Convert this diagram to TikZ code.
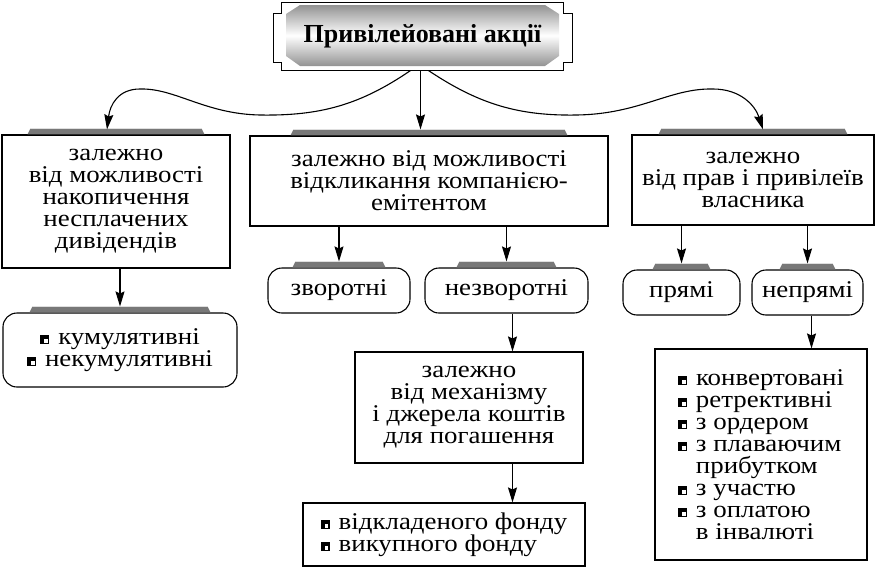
\documentclass[tikz,border=0pt]{standalone}
\usepackage{fontspec}
\setmainfont{Liberation Serif}
\newfontfamily\widefont{Liberation Serif}[FakeStretch=1.12]
\usetikzlibrary{arrows.meta,calc}
\definecolor{tabgray}{gray}{0.47}
\newcommand{\bul}{\makebox[18pt][l]{\rule[0.5pt]{9pt}{9pt}\hspace{-5pt}\textcolor{white}{\rule[1.6pt]{3.6pt}{3.8pt}}}}
\tikzset{
  crit/.style={draw, line width=1.1pt, fill=white, align=center,
    font=\widefont\fontsize{24}{22}\selectfont, inner sep=0pt},
  kind/.style={crit, rounded corners=14pt},
  listbox/.style={crit, align=left}
}
\begin{document}
\begin{tikzpicture}[x=1pt,y=-1pt,>={Stealth[length=15pt,width=9pt,inset=2pt]},line width=1.1pt]
        \useasboundingbox (0,0) rectangle (877,570);

        % title plate
        \draw[line width=1pt] (281,2) -- (563,2) -- (563,13) -- (572,13) -- (572,62)
          -- (563,62) -- (563,70) -- (281,70) -- (281,62) -- (273,62) -- (273,13)
          -- (281,13) -- cycle;
        \shade[top color=gray!85, bottom color=gray!85, middle color=white]
          (300,5) -- (545,5) -- (559,14) -- (559,56) -- (545,66) -- (300,66)
          -- (286,56) -- (286,14) -- cycle;
        \node[minimum width=299, minimum height=68,
          font=\fontsize{26}{28}\selectfont\bfseries] (title) at (422.5,36)
          {Привілейовані акції};

        % criteria
        \node[crit, minimum width=228, minimum height=133] (dep1) at (116,201.5)
          {залежно\\від можливості\\накопичення\\несплачених\\дивідендів};
        \node[crit, minimum width=358, minimum height=90] (dep2) at (429,181)
          {залежно від можливості\\відкликання компанією-\\емітентом};
        \node[crit, minimum width=242, minimum height=90] (dep3) at (753,180)
          {залежно\\від прав і привілеїв\\власника};

        \node[kind, minimum width=234, minimum height=74] (cum) at (120,350)
          {\bul кумулятивні\\\bul некумулятивні};
        \node[kind, minimum width=142, minimum height=45] (zv) at (339,290.5) {зворотні};
        \node[kind, minimum width=163, minimum height=45] (nzv) at (506.5,290.5) {незворотні};
        \node[kind, minimum width=117, minimum height=45] (pr) at (681.5,292.5) {прямі};
        \node[kind, minimum width=111, minimum height=45] (npr) at (807.5,292.5) {непрямі};

        \node[crit, minimum width=228, minimum height=111] (mech) at (469,407.5)
          {залежно\\від механізму\\і джерела коштів\\для погашення};
        \node[listbox, minimum width=282, minimum height=63] (fund) at (444,534.5)
          {\bul відкладеного фонду\\\bul викупного фонду};
        \node[listbox, minimum width=212, minimum height=211] (lst) at (761,454.5)
          {\bul конвертовані\\\bul ретрективні\\\bul з ордером\\\bul з плаваючим\\
           \hspace*{18pt}прибутком\\\bul з участю\\\bul з оплатою\\\hspace*{18pt}в інвалюті};

        % tabs
        \foreach \n/\d in {dep1/26, dep2/41, dep3/27, cum/27, zv/25, nzv/32, pr/30, npr/28}{
          \fill[tabgray] ($(\n.north west)+(\d,0)$) -- ($(\n.north west)+(\d+3,-6)$)
            -- ($(\n.north east)+(-\d-3,-6)$) -- ($(\n.north east)+(-\d,0)$) -- cycle;
          \draw[gray!25, line width=0.6pt] ($(\n.north west)+(\d+3,-6.5)$)
            -- ($(\n.north east)+(-\d-3,-6.5)$);
        }

        % connectors
        \draw[->] ([xshift=-12pt]title.south) .. controls (360,105) and (320,116) .. (260,115)
          .. controls (205,114) and (175,88) .. (140,89)
          .. controls (118,89) and (110,105) .. ([xshift=-9pt,yshift=5pt]dep1.north);
        \draw[->] ([xshift=6pt]title.south) .. controls (480,105) and (520,116) .. (577,115)
          .. controls (640,114) and (670,88) .. (713,89)
          .. controls (740,89) and (755,105) .. ([xshift=10pt,yshift=5pt]dep3.north);
        \draw[->] ([xshift=-2pt]title.south) -- ([xshift=-2pt,yshift=6pt]title.south |- dep2.north);

        \foreach \a/\b in {dep1/cum, dep2/zv, dep2/nzv, dep3/pr, dep3/npr}
          \draw[->] (\b.north |- \a.south) -- ([yshift=6pt]\b.north);

        \draw[->] ([xshift=6pt]nzv.south) -- ([xshift=6pt]nzv.south |- mech.north);
        \draw[->] ([xshift=6pt]nzv.south |- mech.south) -- ([xshift=6pt]nzv.south |- fund.north);
        \draw[->] ([xshift=4pt]npr.south) -- ([xshift=4pt]npr.south |- lst.north);
      \end{tikzpicture}
\end{document}
